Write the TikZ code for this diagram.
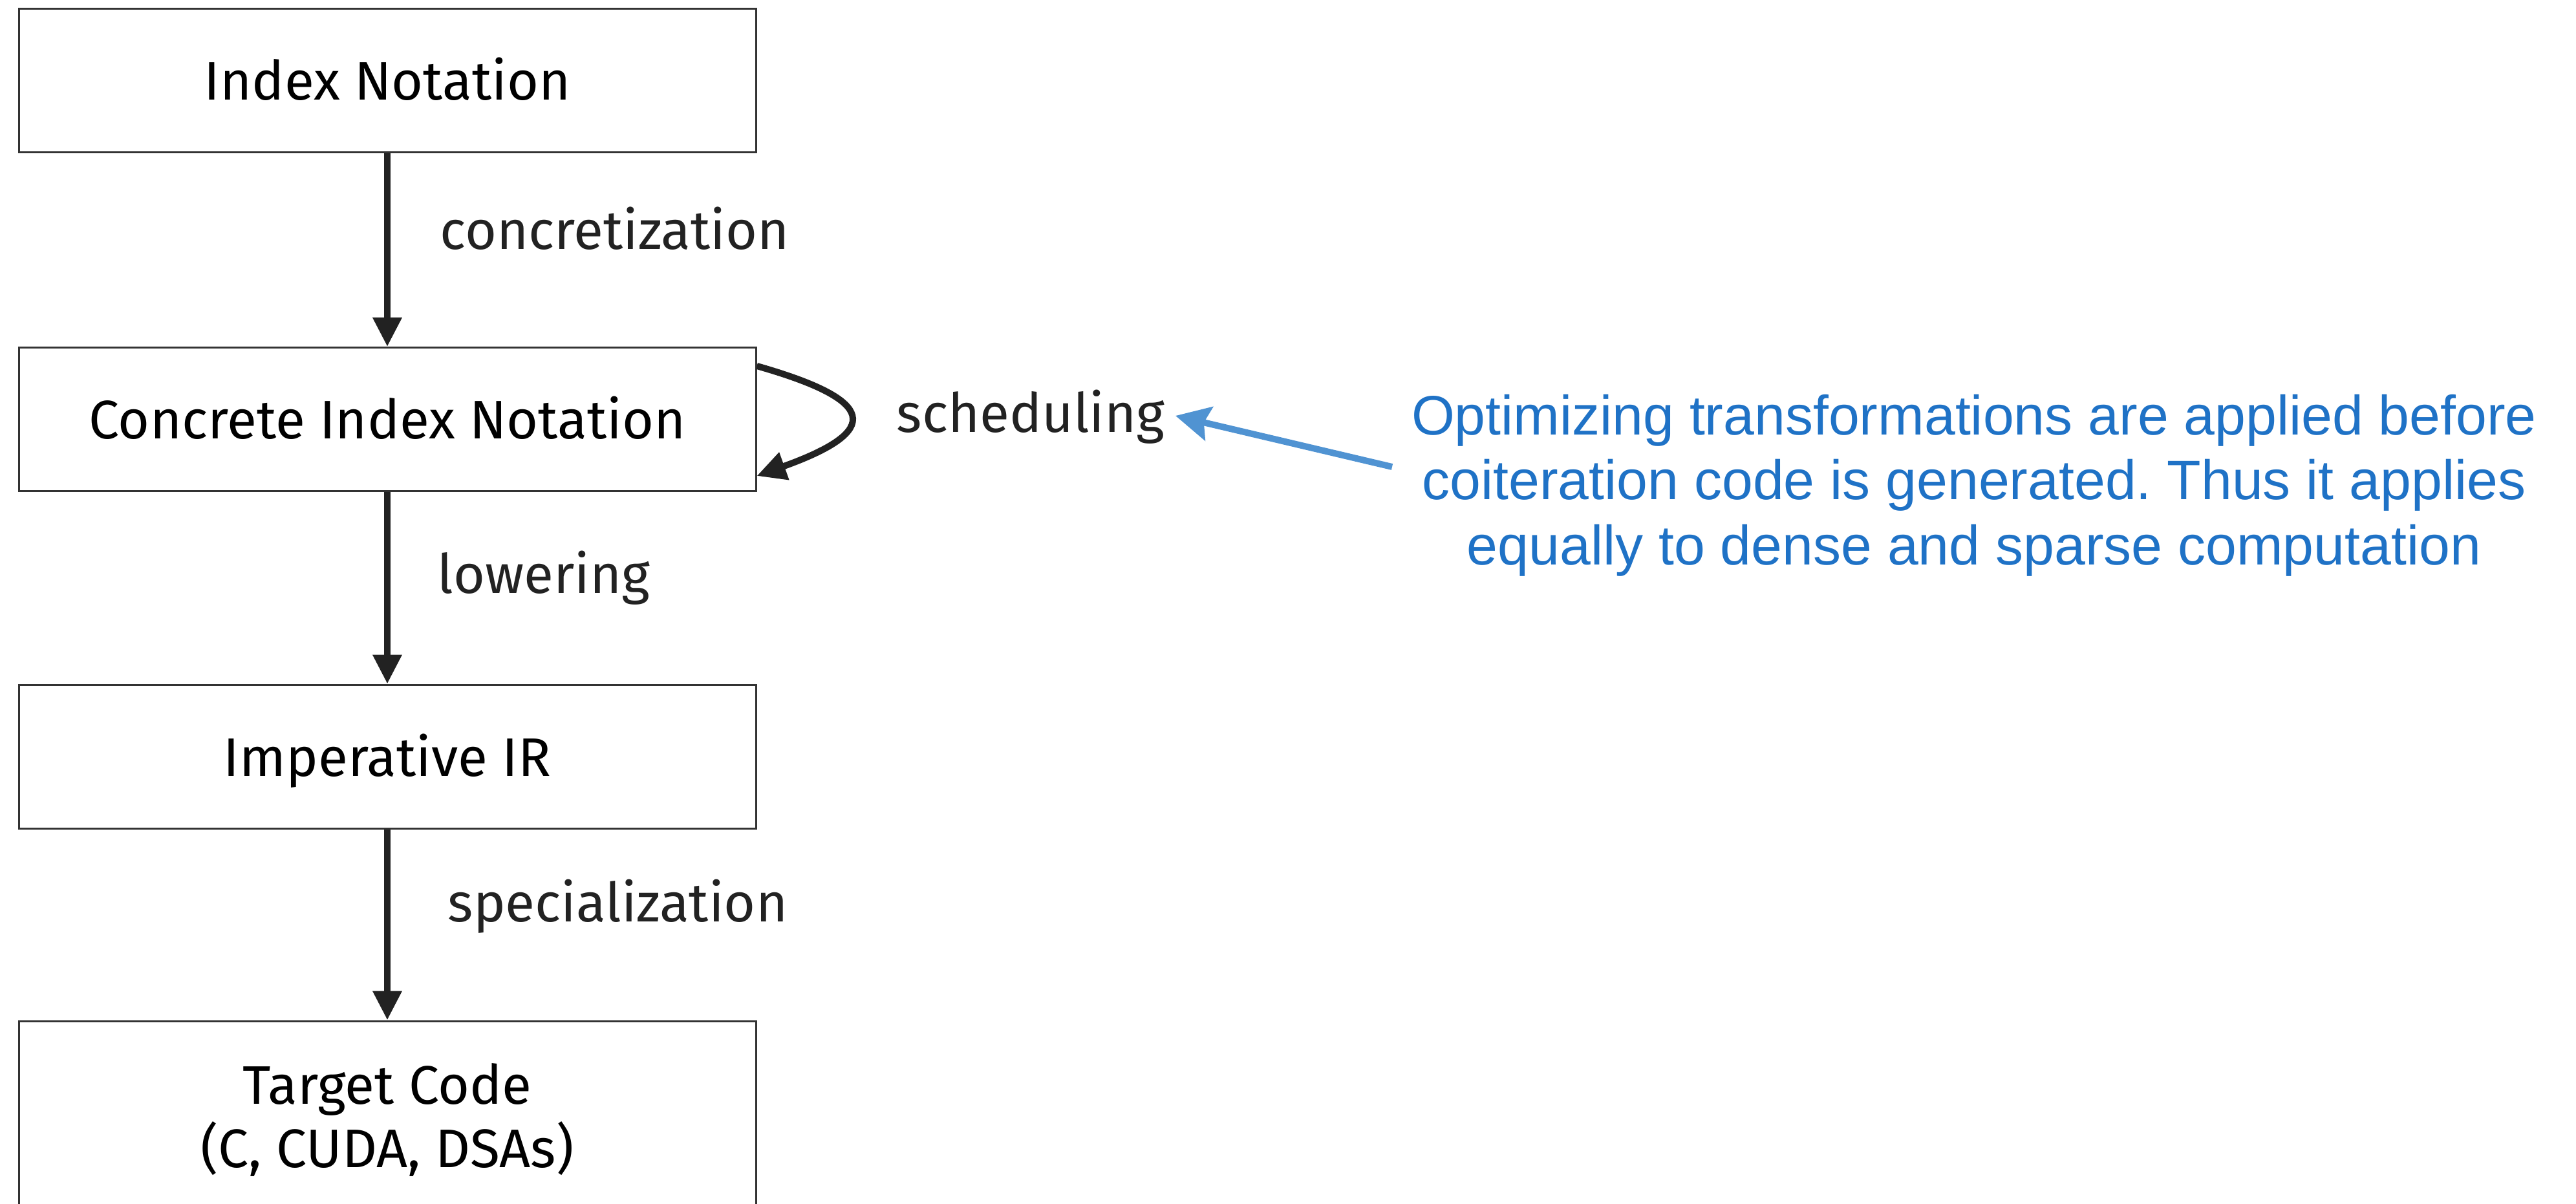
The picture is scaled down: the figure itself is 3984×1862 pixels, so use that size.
\documentclass[tikz,border=0pt]{standalone}
\usepackage{fontspec}
\setmainfont{Fira Sans}
\newfontfamily\notefont{Liberation Sans}
\usetikzlibrary{arrows.meta}
\definecolor{ink}{HTML}{222222}
\definecolor{frame}{HTML}{333333}
\definecolor{notearrow}{HTML}{5093D2}
\definecolor{notetext}{HTML}{1F72C6}
\frenchspacing
\begin{document}
\begin{tikzpicture}[x=0.25pt,y=-0.25pt,
  box/.style={draw=frame, line width=0.75pt, minimum width=285pt, minimum height=55.5pt,
    inner sep=0pt, text height=15pt, text depth=0pt, font=\fontsize{21}{24.5}\selectfont},
  boxtext/.style={anchor=base, inner sep=0pt, font=\fontsize{21}{24.5}\selectfont},
  lbl/.style={anchor=base west, inner sep=0pt, text=ink, font=\fontsize{21}{24.5}\selectfont},
  flow/.style={draw=ink, line width=2.5pt, -{Triangle[length=11.25pt,width=10.75pt]}},
  notearr/.style={draw=notearrow, line width=2.5pt, -{Stealth[length=13.25pt,width=13.25pt,inset=2pt]}},
  note/.style={anchor=base, align=center, inner sep=0pt, text=notetext,
    font=\notefont\fontsize{21.5}{25.1}\selectfont}]
\useasboundingbox (0,0) rectangle (3984,1862);
\clip (0,0) rectangle (3984,1862);

\node[box] (idx) at (599,124.5) {Index Notation};
\node[box] (cin) at (599,648.5) {Concrete Index Notation};
\node[box] (imp) at (599,1170) {Imperative IR};
\node[box, text height=0pt, minimum height=73.5pt] (tgt) at (599,1726) {};
\node[boxtext] (tgt1) at (599,1707) {Target Code};
\node[boxtext] (tgt2) at (599,1805) {(C, CUDA, DSAs)};

\draw[flow] (idx) -- (cin);
\draw[flow] (cin) -- (imp);
\draw[flow] (imp) -- (tgt);

\node[lbl] (l1) at (680,385) {concretization};
\node[lbl] (l2) at (676,917) {lowering};
\node[lbl] (l3) at (692,1425) {specialization};

\coordinate (loopA) at ([yshift=-7.5pt]cin.north east);
\coordinate (loopB) at ([yshift=6.25pt]cin.south east);
\draw[flow] (loopA) .. controls +(186,53) and +(195,-70) .. (loopB);
\node[lbl] (sched) at (1386,668) {scheduling};

\node[note] (nt) at (3053,873) {Optimizing transformations are applied before\\
coiteration code is generated. Thus it applies\\
equally to dense and sparse computation};
\coordinate (ntail) at (2153,722);
\coordinate (ntip) at (1818,643);
\draw[notearr] (ntail) -- (ntip);
\end{tikzpicture}
\end{document}
